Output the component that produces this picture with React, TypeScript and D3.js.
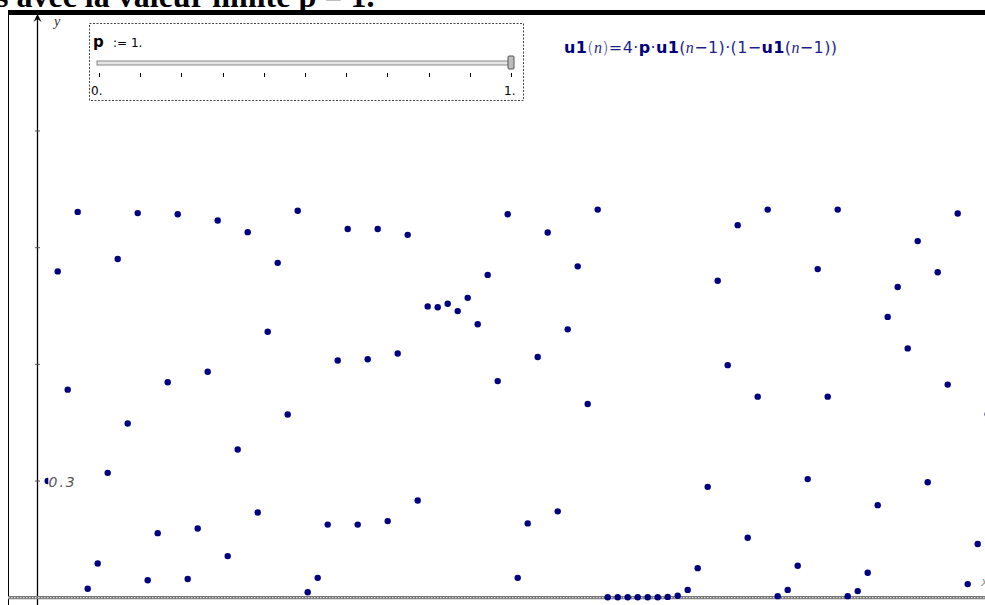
import React from "react";
import * as d3 from "d3";

// Sequence u1(n), n = 0..94
const nValues = d3.range(0, 95);
const uValues = [
  0.300, 0.839, 0.535, 0.992, 0.023, 0.088, 0.321, 0.871, 0.448, 0.989,
  0.045, 0.166, 0.554, 0.986, 0.048, 0.178, 0.581, 0.970, 0.107, 0.381,
  0.940, 0.219, 0.684, 0.861, 0.471, 0.995, 0.014, 0.051, 0.188, 0.610,
  0.948, 0.188, 0.613, 0.948, 0.197, 0.628, 0.933, 0.250, 0.749, 0.747,
  0.756, 0.737, 0.771, 0.703, 0.830, 0.557, 0.986, 0.051, 0.191, 0.619,
  0.939, 0.222, 0.690, 0.852, 0.498, 0.998, 0.001, 0.001, 0.001, 0.001,
  0.001, 0.001, 0.002, 0.005, 0.020, 0.076, 0.285, 0.815, 0.598, 0.958,
  0.154, 0.517, 0.998, 0.004, 0.020, 0.082, 0.305, 0.845, 0.517, 0.998,
  0.004, 0.017, 0.064, 0.238, 0.722, 0.799, 0.641, 0.917, 0.297, 0.837,
  0.548, 0.988, 0.035, 0.138, 0.472,
];
const yTicks = [0.3, 0.6, 0.9, 1.2];
const yTickLabel = "0.3";
const sliderTicks = d3.range(0, 11).map((i) => i / 10);
const sliderValue = 1;
const sliderMinLabel = "0.";
const sliderMaxLabel = "1.";
const titleText = "s avec la valeur limite ";
const titleBold = "p = 1.";

const W = 985;
const H = 605;

export default function App() {
  const x = d3.scaleLinear().domain([0, 94]).range([47.7, 987.7]);
  const y = d3.scaleLinear().domain([0, 1]).range([597.7, 208.8]);
  const s = d3.scaleLinear().domain([0, 1]).range([99, 511]);
  const navy = "#000080";
  const y0 = y(0);

  return (
    <svg
      width={W}
      height={H}
      style={{ position: "absolute", left: 0, top: 0, background: "#fff" }}
      fontFamily="'DejaVu Sans', sans-serif"
    >
      {/* title (cut off at top) */}
      <text x={-4} y={7} fontFamily="'Liberation Serif', serif" fontSize={32} fontWeight="bold" fill="#000">
        {titleText}
        <tspan>{titleBold}</tspan>
      </text>

      {/* frame */}
      <rect x={8} y={10} width={W} height={5} fill="#000" />
      <line x1={8.5} y1={12} x2={8.5} y2={H} stroke="#000" strokeWidth={1} />

      {/* y axis */}
      <line x1={37.5} y1={16} x2={37.5} y2={H} stroke="#000" strokeWidth={1.3} />
      <path d="M33.5,22 L37.5,14 L41.5,22 L37.5,19 Z" fill="#000" />
      <text x={54} y={26} fontFamily="'Liberation Serif', serif" fontStyle="italic" fontSize={14} fill="#333">
        y
      </text>
      {yTicks.map((t) => (
        <line key={t} x1={35} x2={40} y1={y(t)} y2={y(t)} stroke="#555" strokeWidth={1} />
      ))}

      {/* x axis (hatched) */}
      <line x1={8} x2={W} y1={y0} y2={y0} stroke="#777" strokeWidth={3.2} />
      <line x1={8} x2={W} y1={y0} y2={y0} stroke="#ddd" strokeWidth={1.2} strokeDasharray="1.5 1.5" />
      <text x={981} y={586} fontStyle="italic" fontSize={13} fill="#999">
        x
      </text>

      {/* points */}
      {nValues.map((n, i) => (
        <circle key={n} cx={x(n)} cy={y(uValues[i])} r={3.2} fill={navy} />
      ))}

      {/* y tick label with white background */}
      <rect x={48.3} y={y(0.3) - 8} width={26} height={15} fill="#fff" />
      <text
        x={48.5}
        y={y(0.3) + 6}
        fontStyle="italic"
        fontSize={14}
        letterSpacing={2}
        fill="#555"
      >
        {yTickLabel}
      </text>

      {/* slider box */}
      <rect x={89.5} y={23.5} width={434} height={77} fill="#fff" stroke="#444" strokeWidth={1} strokeDasharray="2 1.5" />
      <text x={93} y={47} fontSize={15} fontWeight="bold" fill="#000">
        p
      </text>
      <text x={113} y={47} fontSize={12} fill="#000">
        := 1.
      </text>
      <rect x={s(0) - 2} y={61} width={s(1) - s(0) + 4} height={4} fill="#e6e6e6" stroke="#888" strokeWidth={1} />
      <rect x={s(sliderValue) - 3} y={56} width={6} height={13} rx={1} fill="#bdbdbd" stroke="#555" strokeWidth={1} />
      {sliderTicks.map((t) => (
        <line key={t} x1={Math.round(s(t)) + 0.5} x2={Math.round(s(t)) + 0.5} y1={73} y2={77} stroke="#000" strokeWidth={1} />
      ))}
      <text x={91} y={95} fontSize={12} fill="#000">
        {sliderMinLabel}
      </text>
      <text x={504} y={95} fontSize={12} fill="#000">
        {sliderMaxLabel}
      </text>

      {/* formula */}
      <text x={564} y={53} fontSize={16} fill="#1f1f8c" textLength={273} lengthAdjust="spacing">
        <tspan fontWeight="bold" fill="#00007a">u1</tspan>
        <tspan fontWeight="lighter">(</tspan>
        <tspan fontStyle="italic" fontFamily="'Liberation Serif', serif">n</tspan>
        <tspan fontWeight="lighter">)</tspan>
        <tspan>=4·</tspan>
        <tspan fontWeight="bold" fill="#00007a">p</tspan>
        <tspan>·</tspan>
        <tspan fontWeight="bold" fill="#00007a">u1</tspan>
        <tspan>(</tspan>
        <tspan fontStyle="italic" fontFamily="'Liberation Serif', serif">n</tspan>
        <tspan>−1)·(1−</tspan>
        <tspan fontWeight="bold" fill="#00007a">u1</tspan>
        <tspan>(</tspan>
        <tspan fontStyle="italic" fontFamily="'Liberation Serif', serif">n</tspan>
        <tspan>−1))</tspan>
      </text>
    </svg>
  );
}
